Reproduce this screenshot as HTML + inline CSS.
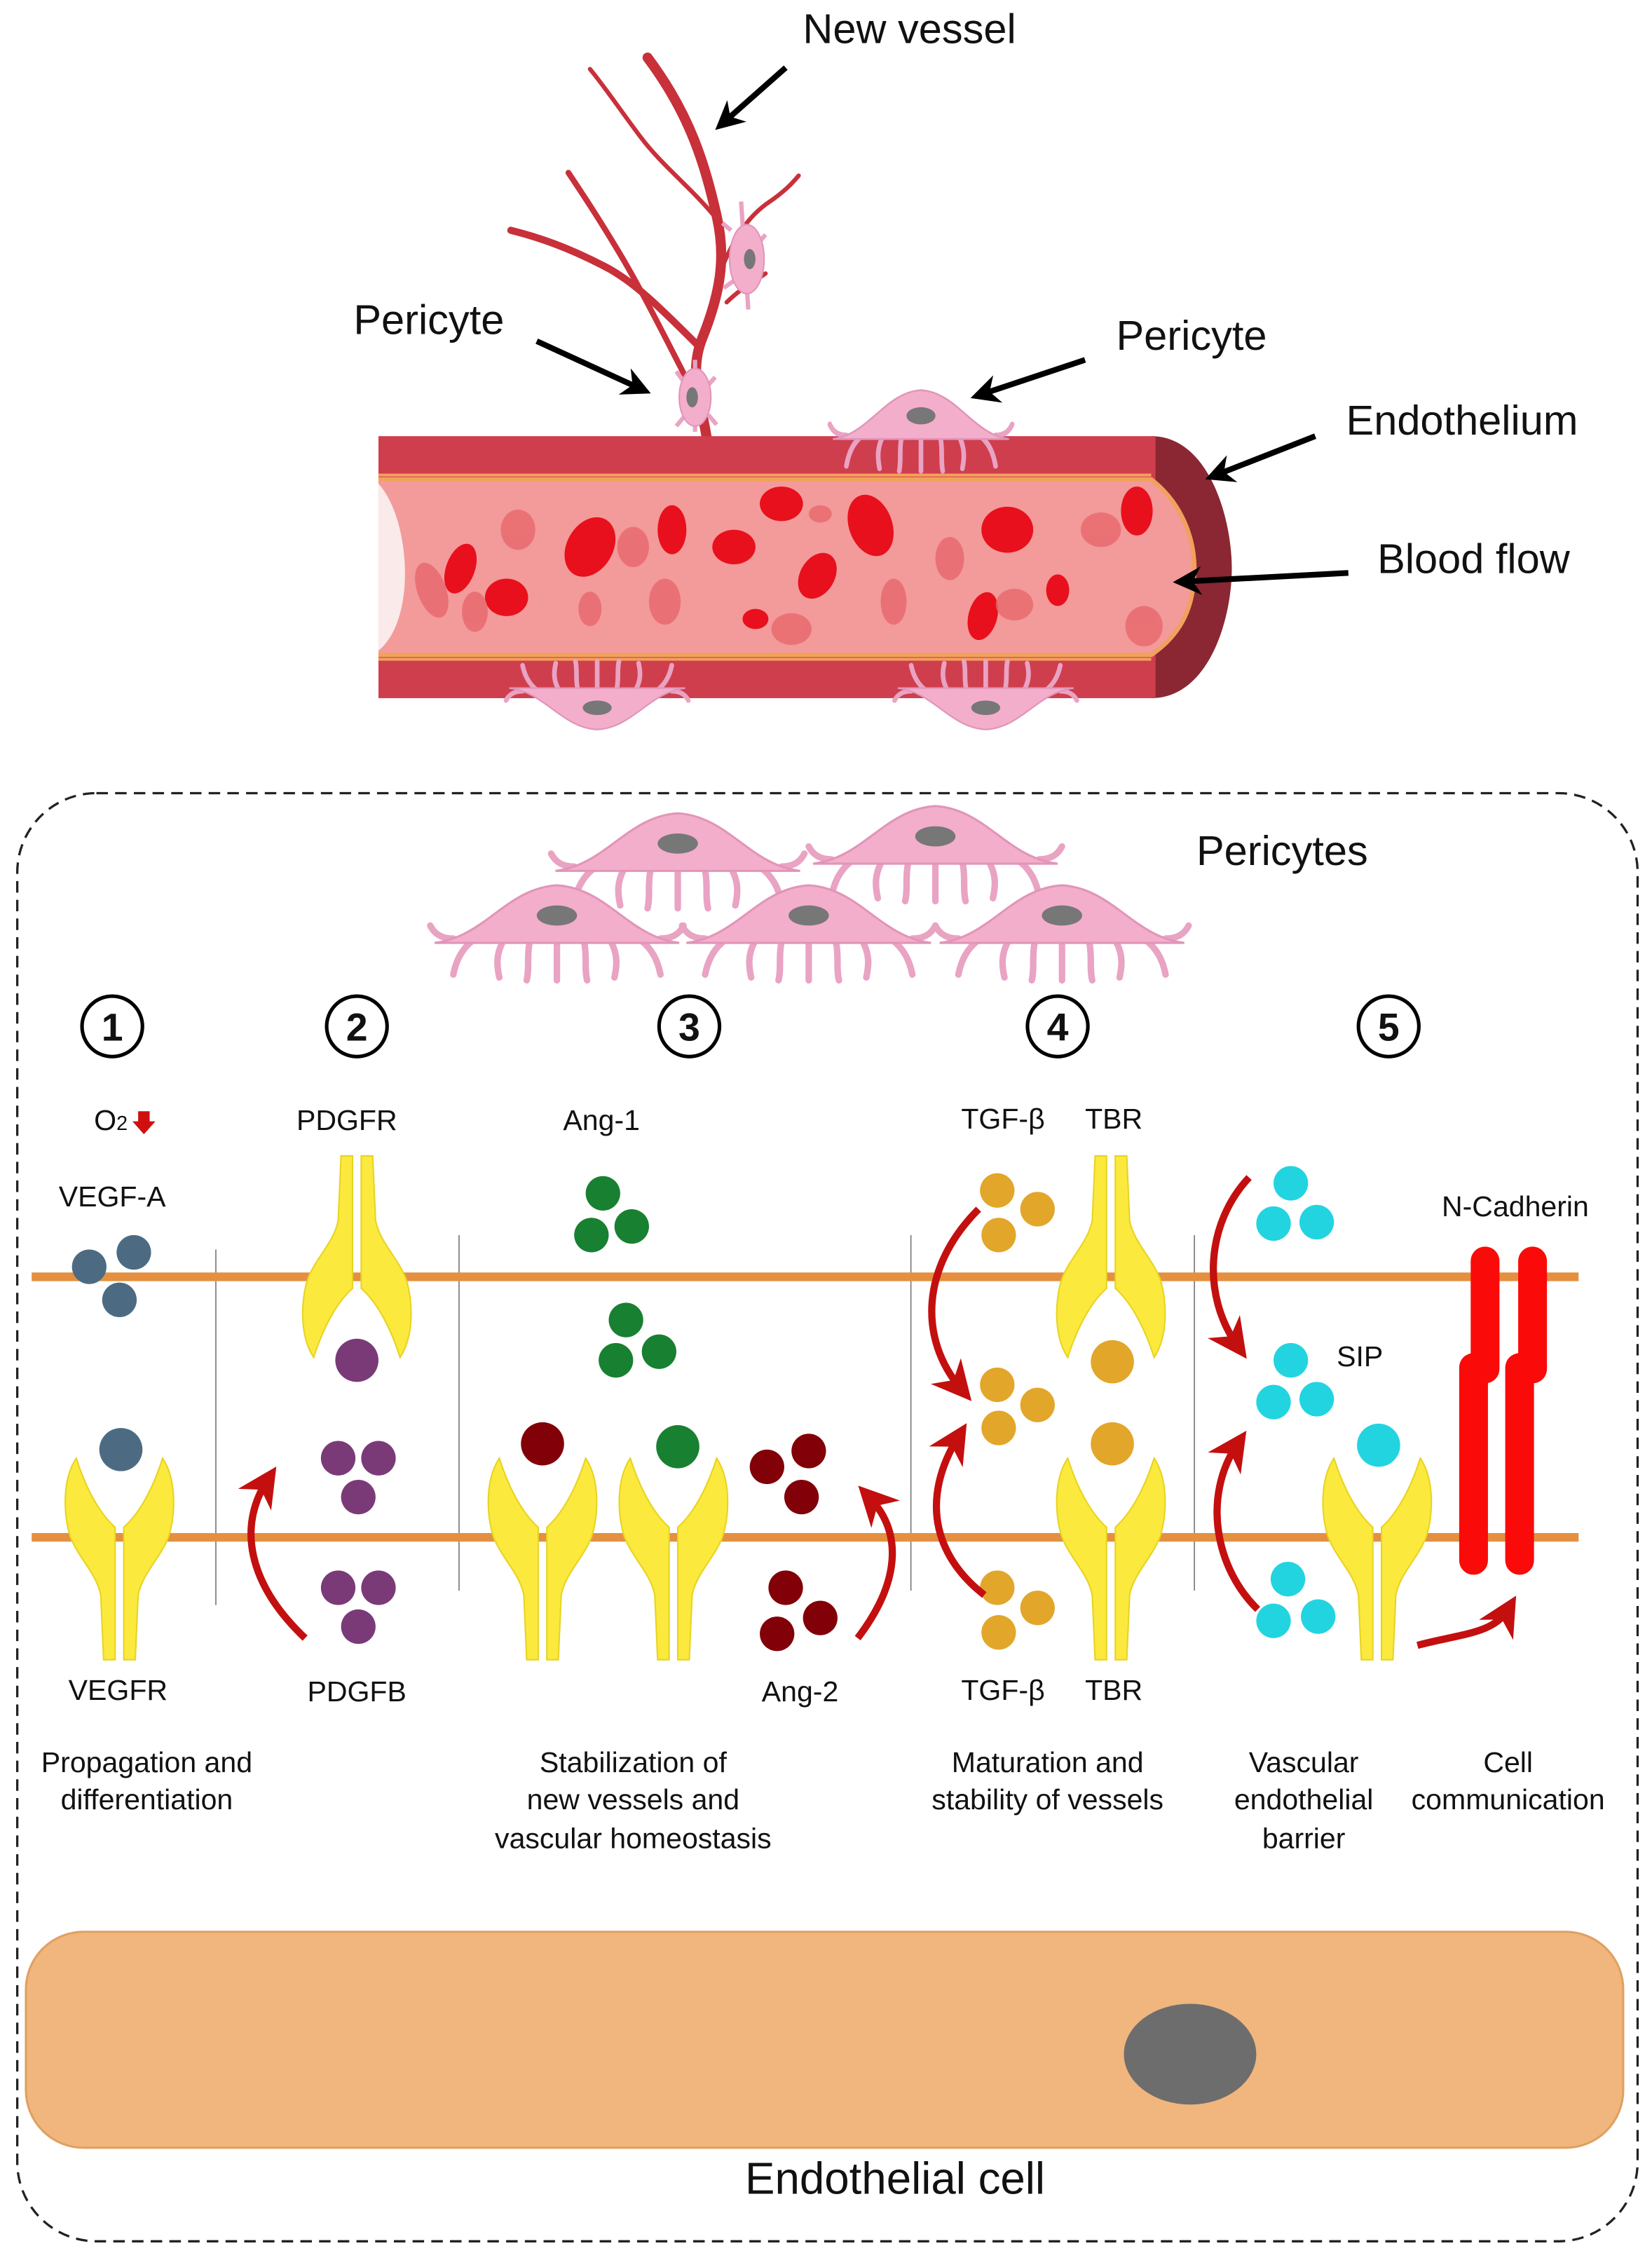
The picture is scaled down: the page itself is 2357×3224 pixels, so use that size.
<!DOCTYPE html>
<html><head><meta charset="utf-8"><style>
html,body{margin:0;padding:0;background:#fff}
svg{display:block}
text{font-family:"Liberation Sans",Arial,sans-serif;fill:#111}
</style></head><body>
<svg width="2357" height="3224" viewBox="0 0 1148 1570" preserveAspectRatio="none" xmlns="http://www.w3.org/2000/svg">
<defs>
<g id="rc">
<path d="M-3,48 C-12,40 -22,25 -30,0 C-40,15 -39,40 -34,55 C-28,70 -16,80 -13,95 L-11,140 L-3,140 Z" fill="#fbe93e" stroke="#e8d320" stroke-width="1"/>
<path d="M3,48 C12,40 22,25 30,0 C40,15 39,40 34,55 C28,70 16,80 13,95 L11,140 L3,140 Z" fill="#fbe93e" stroke="#e8d320" stroke-width="1"/>
</g>
<g id="peri">
<g stroke="#e9a3c3" stroke-width="4.5" fill="none" stroke-linecap="round">
<path d="M-58,-2 C-66,4 -70,12 -72,22"/><path d="M-38,0 C-42,8 -42,15 -40,24"/>
<path d="M-19,0 C-21,9 -19,18 -21,26"/><path d="M0,0 L0,26"/>
<path d="M19,0 C21,9 19,18 21,26"/><path d="M38,0 C42,8 42,15 40,24"/>
<path d="M58,-2 C66,4 70,12 72,22"/>
<path d="M-72,-3 C-80,-3 -85,-6 -88,-12"/><path d="M72,-3 C80,-3 85,-6 88,-12"/>
</g>
<path d="M-85,0 C-50,-4 -35,-38 0,-40 C35,-38 50,-4 85,0 Z" fill="#f3aecb" stroke="#e195b8" stroke-width="1.5"/>
<ellipse cx="0" cy="-19" rx="14" ry="7" fill="#777"/>
</g>
<marker id="ah" viewBox="0 0 10 10" refX="6" refY="5" markerWidth="5.5" markerHeight="5.5" orient="auto"><path d="M0,0 L10,5 L0,10 L3,5 Z" fill="#c40f0f"/></marker>
<marker id="bh" viewBox="0 0 10 10" refX="6" refY="5" markerWidth="5" markerHeight="5" orient="auto"><path d="M0,0 L10,5 L0,10 L3,5 Z" fill="#000"/></marker>
</defs>

<!-- New vessel -->
<g stroke="#c8303a" fill="none" stroke-linecap="round">
<path d="M492,310 C488,280 478,260 488,235 C500,205 505,180 498,150 C490,115 480,80 450,40" stroke-width="7"/>
<path d="M485,240 C460,215 440,195 420,185 C395,172 375,165 355,160" stroke-width="5"/>
<path d="M478,265 C460,230 445,200 430,175 C415,150 405,135 395,120" stroke-width="4"/>
<path d="M498,152 C480,130 460,115 445,95 C430,75 420,60 410,48" stroke-width="3"/>
<path d="M500,190 C510,165 520,150 535,140 C545,133 550,128 555,122" stroke-width="3"/>
<path d="M505,210 C515,200 525,195 532,190" stroke-width="3"/>
</g>
<g stroke="#e9a3c3" stroke-width="3" fill="none">
<path d="M483,250 L483,300"/><path d="M475,265 L470,258"/><path d="M490,270 L497,262"/><path d="M475,290 L470,296"/><path d="M492,288 L498,295"/>
<path d="M515,140 L520,215"/><path d="M508,160 L502,155"/><path d="M526,170 L532,163"/><path d="M510,195 L503,200"/>
</g>
<ellipse cx="483" cy="276" rx="11" ry="20" fill="#f3aecb" stroke="#e195b8"/>
<ellipse cx="481" cy="276" rx="4" ry="7" fill="#777"/>
<ellipse cx="519" cy="180" rx="12" ry="24" fill="#f3aecb" stroke="#e195b8"/>
<ellipse cx="521" cy="180" rx="4" ry="7" fill="#777"/>

<!-- Vessel -->
<path d="M800,303 C840,303 856,360 856,395 C856,430 840,485 800,485 Z" fill="#8a2733"/>
<rect x="263" y="303" width="540" height="182" fill="#cf3e4d"/>
<path d="M263,333 L800,333 C822,350 830,375 830,395 C830,420 822,440 800,455 L263,455 Z" fill="#f39a9b"/>
<path d="M263,333 L800,333 C822,350 830,375 830,395 C830,420 822,440 800,455 L263,455" fill="none" stroke="#f2a15c" stroke-width="3"/>
<path d="M263,336 C285,360 290,430 263,452 Z" fill="#fbeaea"/>
<g fill="#e8101c">
<ellipse cx="320" cy="395" rx="10" ry="18" transform="rotate(20 320 395)"/>
<ellipse cx="410" cy="380" rx="16" ry="22" transform="rotate(30 410 380)"/>
<ellipse cx="467" cy="368" rx="10" ry="17"/>
<ellipse cx="510" cy="380" rx="15" ry="12"/>
<ellipse cx="543" cy="350" rx="15" ry="12"/>
<ellipse cx="605" cy="365" rx="15" ry="22" transform="rotate(-20 605 365)"/>
<ellipse cx="568" cy="400" rx="12" ry="17" transform="rotate(30 568 400)"/>
<ellipse cx="700" cy="368" rx="18" ry="16"/>
<ellipse cx="790" cy="355" rx="11" ry="17"/>
<ellipse cx="352" cy="415" rx="15" ry="13"/>
<ellipse cx="683" cy="428" rx="10" ry="17" transform="rotate(15 683 428)"/>
<ellipse cx="735" cy="410" rx="8" ry="11"/>
<ellipse cx="525" cy="430" rx="9" ry="7"/>
</g>
<g fill="#e7686c" opacity="0.8">
<ellipse cx="300" cy="410" rx="10" ry="20" transform="rotate(-20 300 410)"/>
<ellipse cx="330" cy="425" rx="9" ry="14"/>
<ellipse cx="360" cy="368" rx="12" ry="14"/>
<ellipse cx="440" cy="380" rx="11" ry="14"/>
<ellipse cx="410" cy="423" rx="8" ry="12"/>
<ellipse cx="462" cy="418" rx="11" ry="16"/>
<ellipse cx="550" cy="437" rx="14" ry="11"/>
<ellipse cx="570" cy="357" rx="8" ry="6"/>
<ellipse cx="621" cy="418" rx="9" ry="16"/>
<ellipse cx="660" cy="388" rx="10" ry="15"/>
<ellipse cx="705" cy="420" rx="13" ry="11"/>
<ellipse cx="765" cy="368" rx="14" ry="12"/>
<ellipse cx="795" cy="435" rx="13" ry="14"/>
</g>
<path d="M263,330 L800,330 M263,458 L800,458" stroke="#f2a15c" stroke-width="2"/>
<use href="#peri" transform="translate(640,305) scale(0.72,0.85)"/>
<use href="#peri" transform="translate(415,478) scale(0.72,-0.72)"/>
<use href="#peri" transform="translate(685,478) scale(0.72,-0.72)"/>

<!-- Top labels & arrows -->
<text x="632" y="30" font-size="29" text-anchor="middle">New vessel</text>
<text x="298" y="232" font-size="29" text-anchor="middle">Pericyte</text>
<text x="828" y="243" font-size="29" text-anchor="middle">Pericyte</text>
<text x="1016" y="302" font-size="29" text-anchor="middle">Endothelium</text>
<text x="1024" y="398" font-size="29" text-anchor="middle">Blood flow</text>
<g stroke="#000" stroke-width="4" fill="none" marker-end="url(#bh)">
<path d="M546,47 L503,85"/>
<path d="M373,237 L445,270"/>
<path d="M754,250 L682,274"/>
<path d="M914,303 L845,330"/>
<path d="M937,398 L823,404"/>
</g>

<!-- Dashed box -->
<rect x="12" y="551" width="1126" height="1006" rx="55" fill="none" stroke="#222" stroke-width="1.6" stroke-dasharray="8,5"/>
<text x="891" y="601" font-size="29" text-anchor="middle">Pericytes</text>
<use href="#peri" transform="translate(471,605)"/>
<use href="#peri" transform="translate(650,600)"/>
<use href="#peri" transform="translate(387,655)"/>
<use href="#peri" transform="translate(562,655)"/>
<use href="#peri" transform="translate(738,655)"/>

<!-- numbers -->
<g fill="none" stroke="#000" stroke-width="2.5">
<circle cx="78" cy="713" r="21"/><circle cx="248" cy="713" r="21"/><circle cx="479" cy="713" r="21"/><circle cx="735" cy="713" r="21"/><circle cx="965" cy="713" r="21"/>
</g>
<g font-size="27" font-weight="bold" text-anchor="middle">
<text x="78" y="723">1</text><text x="248" y="723">2</text><text x="479" y="723">3</text><text x="735" y="723">4</text><text x="965" y="723">5</text>
</g>

<!-- separators -->
<g stroke="#777" stroke-width="0.8">
<line x1="150" y1="868" x2="150" y2="1115"/><line x1="319" y1="858" x2="319" y2="1105"/>
<line x1="633" y1="858" x2="633" y2="1105"/><line x1="830" y1="858" x2="830" y2="1105"/>
</g>

<!-- membranes -->
<line x1="22" y1="887" x2="1097" y2="887" stroke="#e49040" stroke-width="6"/>
<line x1="22" y1="1068" x2="1097" y2="1068" stroke="#e49040" stroke-width="6"/>

<!-- receptors -->
<use href="#rc" transform="translate(83,1013)"/>
<use href="#rc" transform="translate(377,1013)"/>
<use href="#rc" transform="translate(468,1013)"/>
<use href="#rc" transform="translate(772,1013)"/>
<use href="#rc" transform="translate(957,1013)"/>
<use href="#rc" transform="translate(248,943) scale(1,-1)"/>
<use href="#rc" transform="translate(772,943) scale(1,-1)"/>

<!-- ligands -->
<g fill="#4c6b83"><circle cx="62" cy="880" r="12"/><circle cx="93" cy="870" r="12"/><circle cx="83" cy="903" r="12"/><circle cx="84" cy="1007" r="15"/></g>
<g fill="#7a3a78"><circle cx="248" cy="945" r="15"/><circle cx="235" cy="1013" r="12"/><circle cx="263" cy="1013" r="12"/><circle cx="249" cy="1040" r="12"/><circle cx="235" cy="1103" r="12"/><circle cx="263" cy="1103" r="12"/><circle cx="249" cy="1130" r="12"/></g>
<g fill="#188031"><circle cx="419" cy="829" r="12"/><circle cx="411" cy="858" r="12"/><circle cx="439" cy="852" r="12"/><circle cx="435" cy="917" r="12"/><circle cx="428" cy="945" r="12"/><circle cx="458" cy="939" r="12"/><circle cx="471" cy="1005" r="15"/></g>
<g fill="#820008"><circle cx="377" cy="1003" r="15"/><circle cx="533" cy="1019" r="12"/><circle cx="562" cy="1008" r="12"/><circle cx="557" cy="1040" r="12"/><circle cx="546" cy="1103" r="12"/><circle cx="540" cy="1135" r="12"/><circle cx="570" cy="1124" r="12"/></g>
<g fill="#e2a62a"><circle cx="693" cy="827" r="12"/><circle cx="694" cy="858" r="12"/><circle cx="721" cy="840" r="12"/><circle cx="693" cy="962" r="12"/><circle cx="694" cy="992" r="12"/><circle cx="721" cy="976" r="12"/><circle cx="693" cy="1103" r="12"/><circle cx="694" cy="1134" r="12"/><circle cx="721" cy="1117" r="12"/><circle cx="773" cy="946" r="15"/><circle cx="773" cy="1003" r="15"/></g>
<g fill="#22d4e0"><circle cx="897" cy="822" r="12"/><circle cx="885" cy="850" r="12"/><circle cx="915" cy="849" r="12"/><circle cx="897" cy="945" r="12"/><circle cx="885" cy="974" r="12"/><circle cx="915" cy="972" r="12"/><circle cx="958" cy="1004" r="15"/><circle cx="895" cy="1097" r="12"/><circle cx="885" cy="1126" r="12"/><circle cx="916" cy="1123" r="12"/></g>

<!-- N-Cadherin -->
<g fill="#fb0a0a">
<rect x="1022" y="866" width="20" height="95" rx="10"/><rect x="1014" y="940" width="20" height="154" rx="10"/>
<rect x="1055" y="866" width="20" height="95" rx="10"/><rect x="1046" y="940" width="20" height="154" rx="10"/>
</g>

<!-- red arrows -->
<g stroke="#c40f0f" stroke-width="5" fill="none" marker-end="url(#ah)">
<path d="M212,1138 C172,1100 165,1060 186,1028"/>
<path d="M596,1138 C625,1100 628,1065 604,1040"/>
<path d="M680,840 C640,880 638,930 668,965"/>
<path d="M684,1108 C648,1080 640,1040 666,998"/>
<path d="M868,818 C838,850 835,900 860,935"/>
<path d="M874,1118 C845,1090 835,1040 860,1003"/>
<path d="M985,1143 C1015,1135 1038,1135 1048,1118"/>
</g>

<!-- small labels -->
<g font-size="20" text-anchor="middle">
<text x="77" y="785">O<tspan font-size="14">2</tspan></text>
<text x="78" y="838">VEGF-A</text>
<text x="241" y="785">PDGFR</text>
<text x="418" y="785">Ang-1</text>
<text x="697" y="784">TGF-β</text>
<text x="774" y="784">TBR</text>
<text x="1053" y="845">N-Cadherin</text>
<text x="945" y="949">SIP</text>
<text x="82" y="1181">VEGFR</text>
<text x="248" y="1182">PDGFB</text>
<text x="556" y="1182">Ang-2</text>
<text x="697" y="1181">TGF-β</text>
<text x="774" y="1181">TBR</text>
<text x="102" y="1231">Propagation and</text>
<text x="102" y="1257">differentiation</text>
<text x="440" y="1231">Stabilization of</text>
<text x="440" y="1257">new vessels and</text>
<text x="440" y="1284">vascular homeostasis</text>
<text x="728" y="1231">Maturation and</text>
<text x="728" y="1257">stability of vessels</text>
<text x="906" y="1231">Vascular</text>
<text x="906" y="1257">endothelial</text>
<text x="906" y="1284">barrier</text>
<text x="1048" y="1231">Cell</text>
<text x="1048" y="1257">communication</text>
</g>
<path d="M96,772 L104,772 L104,779 L108,779 L100,788 L92,779 L96,779 Z" fill="#d01010"/>

<!-- Endothelial cell -->
<rect x="18" y="1342" width="1110" height="150" rx="40" fill="#f0b67d" stroke="#e0a060" stroke-width="1.5"/>
<ellipse cx="827" cy="1427" rx="46" ry="35" fill="#6d6d6d"/>
<text x="622" y="1524" font-size="31" text-anchor="middle">Endothelial cell</text>
</svg>
</body></html>
